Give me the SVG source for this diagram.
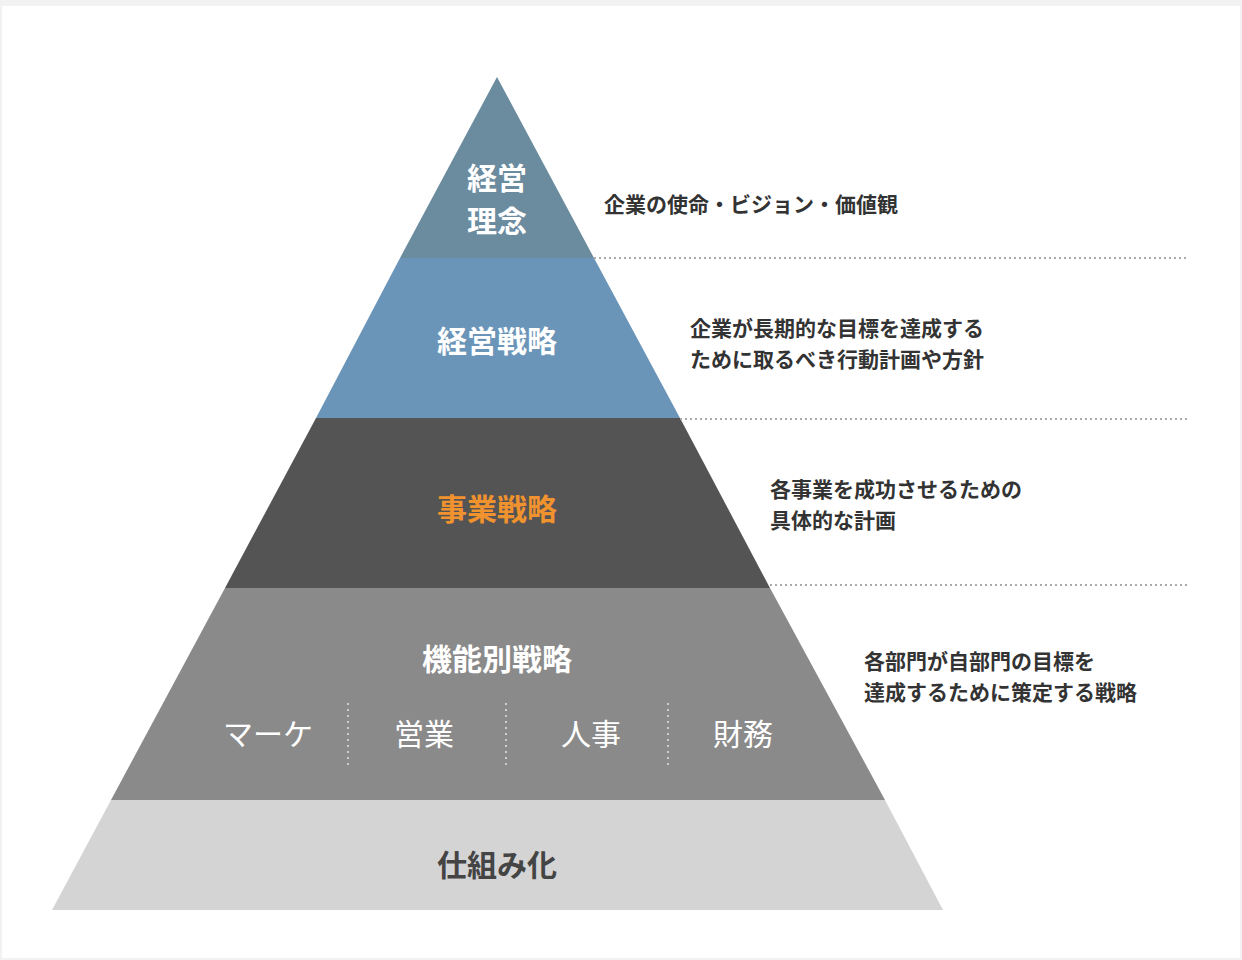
<svg xmlns="http://www.w3.org/2000/svg" width="1242" height="960" viewBox="0 0 1242 960">
<style>
.t{font-family:"Noto Sans CJK JP","Noto Sans",sans-serif;font-weight:bold}
.lab{font-size:30px;fill:#fff;text-anchor:middle}
.sub{font-size:30px;fill:#fff;text-anchor:middle;font-weight:normal}
.desc{font-size:21px;fill:#333}
.dot{stroke:#aaa;stroke-width:2;stroke-dasharray:2 3;fill:none}
.vd{stroke:#ccc;stroke-width:2;stroke-dasharray:2 4;fill:none}
</style>
<rect width="1242" height="960" fill="#f2f2f2"/>
<rect x="2" y="6" width="1238" height="952" fill="#fff"/>
<g id="level1"><polygon points="497,77 594,258 400,258" fill="#6b8b9f"/>
<text class="t lab" x="497" y="189">経営</text><text class="t lab" x="497" y="232">理念</text></g>
<g id="level2"><polygon points="400,258 594,258 680,418 316,418" fill="#6a95b9"/>
<text class="t lab" x="497" y="352">経営戦略</text></g>
<g id="level3"><polygon points="316,418 680,418 770,588 225,588" fill="#545454"/>
<text class="t lab" x="497" y="520" style="fill:#f0922e">事業戦略</text></g>
<g id="level4"><polygon points="225,588 770,588 885,800 111,800" fill="#8a8a8a"/>
<text class="t lab" x="497" y="670">機能別戦略</text>
<text class="t sub" x="268" y="745">マーケ</text>
<text class="t sub" x="424" y="745">営業</text>
<text class="t sub" x="591" y="745">人事</text>
<text class="t sub" x="743" y="745">財務</text>
<path class="vd" d="M348,703V765M506,703V765M668,703V765"/></g>
<g id="level5"><polygon points="111,800 885,800 943,910 52,910" fill="#d4d4d4"/>
<text class="t lab" x="497" y="876" style="fill:#444">仕組み化</text></g>
<g id="connectors">
<path class="dot" d="M594,258H1188M680,419H1188M770,585H1188"/>
</g>
<g id="descriptions">
<text class="t desc" x="604" y="212">企業の使命・ビジョン・価値観</text>
<text class="t desc" x="690" y="336">企業が長期的な目標を達成する</text>
<text class="t desc" x="690" y="367">ために取るべき行動計画や方針</text>
<text class="t desc" x="770" y="497">各事業を成功させるための</text>
<text class="t desc" x="770" y="528">具体的な計画</text>
<text class="t desc" x="864" y="669">各部門が自部門の目標を</text>
<text class="t desc" x="864" y="700">達成するために策定する戦略</text>
</g>
</svg>
